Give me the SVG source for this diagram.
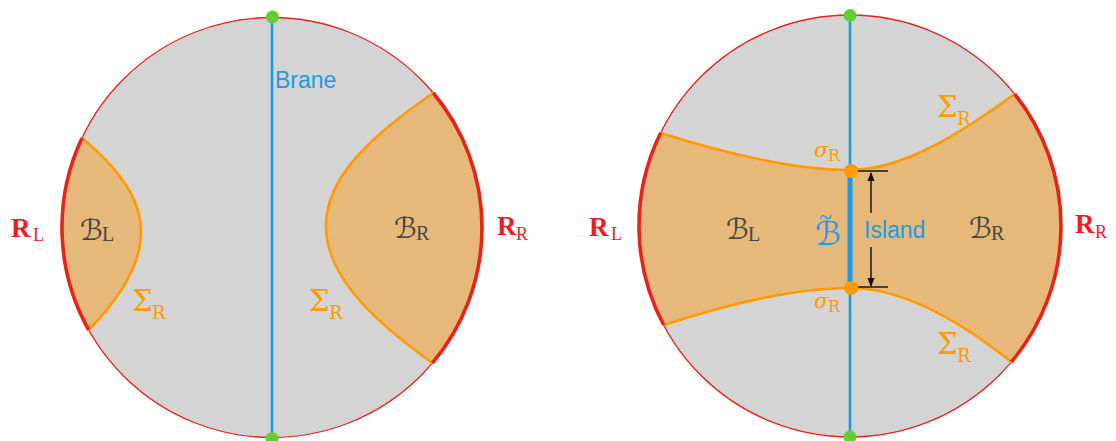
<svg xmlns="http://www.w3.org/2000/svg" width="1116" height="441" viewBox="0 0 1116 441">
<style>
.disk{fill:#d4d4d4;stroke:#e8231a;stroke-width:1.3}
.reg{fill:#e6b97a;stroke:none}
.ocurve{fill:none;stroke:#ff9a00;stroke-width:2.6}
.rarc{fill:none;stroke:#e8231a;stroke-width:3.6}
.brane{stroke:#1a9be8;stroke-width:2.6}
.gdot{fill:#66cc33}
.odot{fill:#ff9a00}
.rl{font-family:"Liberation Serif","DejaVu Serif",serif;fill:#ee1c1c}
.rb{font-weight:bold;font-size:27px}
.sub{font-size:18px}
.cal{font-family:"DejaVu Serif","DejaVu Sans",serif;fill:#474747;font-size:29px}
.subd{font-family:"Liberation Serif",serif;fill:#474747;font-size:20px}
.sig{font-family:"DejaVu Serif","Liberation Serif",serif;fill:#ff9a00}
.sans{font-family:"Liberation Sans",Arial,sans-serif;fill:#1a9be8;font-size:23px}
.arr{stroke:#222;stroke-width:1.6;fill:none}
</style>
<defs>
<marker id="ah" viewBox="0 0 10 10" refX="9" refY="5" markerWidth="9" markerHeight="10" orient="auto" markerUnits="userSpaceOnUse">
<path d="M0,1 L10,5 L0,9 Z" fill="#111"/>
</marker>
</defs>

<!-- LEFT DIAGRAM -->
<g id="left-disk">
<circle class="disk" cx="272" cy="227.5" r="210"/>
</g>
<g id="left-BL">
<path class="reg" d="M82,138 A210,210 0 0 0 88.7,330 C118,300 141,266 141,232 C141,198 118,168 82,138 Z"/>
<path class="ocurve" d="M88.7,330 C118,300 141,266 141,232 C141,198 118,168 82,138"/>
<path class="rarc" d="M82,138 A210,210 0 0 0 88.7,330"/>
<text x="80" y="240" class="cal">ℬ</text><text x="102" y="241" class="subd">L</text>
</g>
<g id="left-BR">
<path class="reg" d="M433.3,93 A210,210 0 0 1 432.4,363 C365,315 326,272 326,226 C326,180 365,140 433.3,93 Z"/>
<path class="ocurve" d="M432.4,363 C365,315 326,272 326,226 C326,180 365,140 433.3,93"/>
<path class="rarc" d="M433.3,93 A210,210 0 0 1 432.4,363"/>
<text x="394" y="238" class="cal">ℬ</text><text x="416" y="240" class="subd">R</text>
</g>
<g id="left-brane">
<line class="brane" x1="272" y1="17" x2="272" y2="438"/>
<text x="275" y="88" class="sans">Brane</text>
<circle class="gdot" cx="272.5" cy="17" r="6.5"/>
<circle class="gdot" cx="272" cy="438.5" r="6.5"/>
</g>
<g id="left-labels">
<text x="11" y="237" class="rl rb">R</text><text x="33" y="241" class="rl sub">L</text>
<text x="497" y="235" class="rl rb">R</text><text x="516" y="240" class="rl sub">R</text>
<text x="132" y="311" class="sig" font-size="29">Σ</text><text x="152" y="319" class="sig" font-size="18">R</text>
<text x="309" y="311" class="sig" font-size="29">Σ</text><text x="329" y="319" class="sig" font-size="18">R</text>
</g>

<!-- RIGHT DIAGRAM -->
<g id="right-disk">
<circle class="disk" cx="850" cy="226" r="211"/>
</g>
<g id="right-region">
<path class="reg" d="M660.6,133 C740,158 800,170 850,170 C905,170 965,130 1014.6,94 A211,211 0 0 1 1011.3,362 C965,325 905,288 850,288 C800,288 740,300 663.7,325 A211,211 0 0 1 660.6,133 Z"/>
<path class="ocurve" d="M660.6,133 C740,158 800,170 850,170 C905,170 965,130 1014.6,94"/>
<path class="ocurve" d="M663.7,325 C740,300 800,288 850,288 C905,288 965,325 1011.3,362"/>
<path class="rarc" d="M1014.6,94 A211,211 0 0 1 1011.3,362"/>
<path class="rarc" d="M663.7,325 A211,211 0 0 1 660.6,133"/>
<text x="726" y="239" class="cal">ℬ</text><text x="748" y="241" class="subd">L</text>
<text x="969" y="238" class="cal">ℬ</text><text x="991" y="240" class="subd">R</text>
</g>
<g id="right-brane">
<line class="brane" x1="850" y1="15" x2="850" y2="437"/>
<line x1="850" y1="172" x2="850" y2="287" stroke="#1a9be8" stroke-width="5"/>
<circle class="gdot" cx="850" cy="15.5" r="6.5"/>
<circle class="gdot" cx="850" cy="437" r="6.5"/>
<circle class="odot" cx="851" cy="171" r="7"/>
<circle class="odot" cx="851" cy="288" r="7"/>
<text x="815" y="245" font-family="DejaVu Serif,DejaVu Sans,serif" font-size="33" fill="#1a9be8">ℬ<tspan dx="-22" dy="-20" font-family="Liberation Serif,serif" font-size="24">~</tspan></text>
</g>
<g id="island">
<line class="arr" x1="858" y1="171" x2="888" y2="171"/>
<line class="arr" x1="858" y1="287" x2="888" y2="287"/>
<line class="arr" x1="871" y1="213" x2="871" y2="173" marker-end="url(#ah)"/>
<line class="arr" x1="871" y1="247" x2="871" y2="286" marker-end="url(#ah)"/>
<text x="864" y="238" class="sans">Island</text>
</g>
<g id="right-labels">
<text x="589" y="236" class="rl rb">R</text><text x="611" y="240" class="rl sub">L</text>
<text x="1075" y="233" class="rl rb">R</text><text x="1095" y="238" class="rl sub">R</text>
<text x="937" y="117" class="sig" font-size="29">Σ</text><text x="957" y="125" class="sig" font-size="18">R</text>
<text x="937" y="354" class="sig" font-size="29">Σ</text><text x="957" y="362" class="sig" font-size="18">R</text>
<text x="814" y="157" class="sig" font-size="21" font-style="italic">σ</text><text x="828" y="161" class="sig" font-size="16">R</text>
<text x="814" y="308" class="sig" font-size="21" font-style="italic">σ</text><text x="828" y="312" class="sig" font-size="16">R</text>
</g>
</svg>
